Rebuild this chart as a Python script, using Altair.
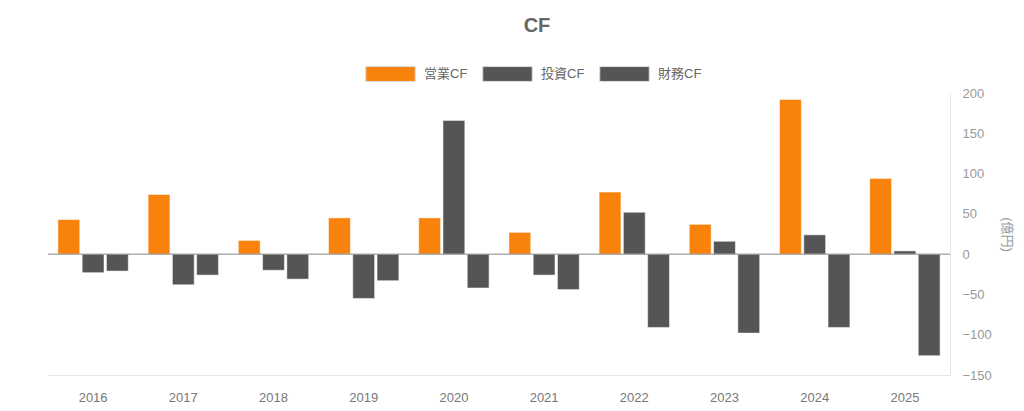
import altair as alt
import pandas as pd

years = [str(y) for y in range(2016, 2026)]
series = ["営業CF", "投資CF", "財務CF"]
op_cf = [43, 74, 17, 45, 45, 27, 77, 37, 192, 94]
inv_cf = [-23, -38, -20, -55, 166, -26, 52, 16, 24, 4]
fin_cf = [-21, -26, -31, -33, -42, -44, -91, -98, -91, -126]
colors = ["#F8820C", "#555555", "#555555"]
y_ticks = [-150, -100, -50, 0, 50, 100, 150, 200]

rows = []
for s, vals in zip(series, [op_cf, inv_cf, fin_cf]):
    for yr, v in zip(years, vals):
        rows.append({"year": yr, "series": s, "value": v})
df = pd.DataFrame(rows)

FONT = "Liberation Sans, Noto Sans CJK JP, sans-serif"

bars = alt.Chart(df).mark_bar(stroke="#ffffff", strokeWidth=1, strokeOpacity=0.5).encode(
    x=alt.X("year:N", sort=years,
            scale=alt.Scale(paddingInner=0.22, paddingOuter=0.11),
            axis=alt.Axis(title=None, labelAngle=0, ticks=False, domainColor="#e6e6e6",
                          labelColor="#777777", labelFontSize=13, labelPadding=16, labelFont=FONT)),
    xOffset=alt.XOffset("series:N", sort=series, scale=alt.Scale(paddingInner=0.1, paddingOuter=0)),
    y=alt.Y("value:Q", scale=alt.Scale(domain=[-150, 200], nice=False, zero=False),
            axis=alt.Axis(orient="right", values=y_ticks, grid=False, ticks=False,
                          domainColor="#e6e6e6", labelColor="#999999", labelFontSize=13,
                          labelPadding=12, labelFont=FONT, title="(億円)", titleColor="#999999",
                          titleFontSize=13, titleFontWeight="normal", titleFont=FONT, titlePadding=8)),
    color=alt.Color("series:N", sort=series,
                    scale=alt.Scale(domain=series, range=colors),
                    legend=alt.Legend(title=None, orient="none", direction="horizontal",
                                      legendX=317, legendY=-27,
                                      symbolType="M-1,-0.3H1V0.3H-1Z", symbolSize=2450,
                                      clipHeight=16, labelOffset=8, columnPadding=14,
                                      labelFontSize=13, labelColor="#666666", labelFont=FONT,
                                      symbolStrokeColor="#dddddd", symbolStrokeWidth=1)),
)

zero = alt.Chart(pd.DataFrame({"v": [0]})).mark_rule(color="#888888", strokeWidth=1).encode(
    y=alt.datum(0)
)

chart = alt.layer(bars, zero).properties(
    width=902,
    height=282,
    title=alt.TitleParams("CF", anchor="middle", dx=38, fontSize=20, fontWeight="bold",
                          color="#666666", font=FONT, offset=30),
    padding={"left": 40, "top": 85, "right": 66, "bottom": 30},
    autosize=alt.AutoSizeParams(type="none"),
).configure_view(stroke=None)

chart.save("out.html", embed_options={"renderer": "svg", "actions": False})
